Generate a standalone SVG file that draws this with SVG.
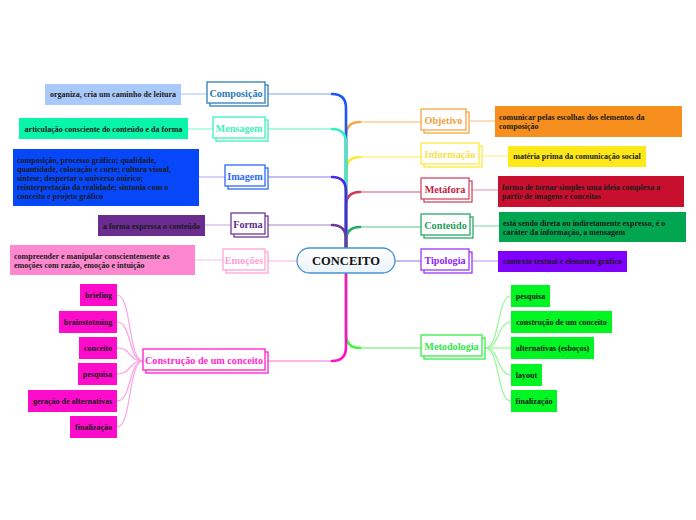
<svg xmlns="http://www.w3.org/2000/svg" width="696" height="520" viewBox="0 0 696 520">
<defs>
<style>
.nt{font-family:"Liberation Serif","Times New Roman",serif;font-weight:bold;font-size:10.2px;text-anchor:middle}
.lt{font-family:"Liberation Serif","Times New Roman",serif;font-weight:bold;font-size:8px;fill:#1a1a1a}
.c{text-anchor:middle}
.nb{fill:#fff;stroke-width:1.3}
.tr{fill:none;stroke-width:2.6;stroke-linecap:round}
.hz{fill:none;stroke-width:1.4}
.lk{fill:none;stroke-width:1.2}
</style>
<linearGradient id="cg" x1="0" y1="0" x2="0" y2="1"><stop offset="0" stop-color="#ffffff"/><stop offset="1" stop-color="#eaf3fa"/></linearGradient>
</defs>
<rect width="696" height="520" fill="#fff"/>
<g id="connectors">
<path class="hz" stroke="#f9cf9b" d="M360,122 H421"/><path class="tr" stroke="#f7a640" d="M346,248 V136 Q346,122 360,122"/>
<path class="hz" stroke="#fff08a" d="M360,157 H421"/><path class="tr" stroke="#ffe836" d="M346,248 V171 Q346,157 360,157"/>
<path class="hz" stroke="#e58b9d" d="M360,192 H421"/><path class="tr" stroke="#d43a58" d="M346,248 V206 Q346,192 360,192"/>
<path class="hz" stroke="#8ed8ae" d="M360,227 H421"/><path class="tr" stroke="#22ab63" d="M346,248 V241 Q346,227 360,227"/>
<path class="hz" stroke="#a8a0f0" d="M395,261 H421"/>
<path class="hz" stroke="#8cf98c" d="M360,348 H421"/><path class="tr" stroke="#3cf83c" d="M346,273 V334 Q346,348 360,348"/>
<path class="hz" stroke="#a9c2f4" d="M332,94 H268"/><path class="tr" stroke="#1d56f5" d="M346,248 V108 Q346,94 332,94"/>
<path class="hz" stroke="#8ff5d6" d="M332,129 H268"/><path class="tr" stroke="#33f0c2" d="M346,248 V143 Q346,129 332,129"/>
<path class="hz" stroke="#b7a4f0" d="M332,177 H268"/><path class="tr" stroke="#4a28e6" d="M346,248 V191 Q346,177 332,177"/>
<path class="hz" stroke="#c4acd8" d="M332,225 H268"/><path class="tr" stroke="#6a3a9c" d="M346,248 V239 Q346,225 332,225"/>
<path class="hz" stroke="#ffc6e8" d="M297,261 H268"/>
<path class="hz" stroke="#ff9ee2" d="M332,361 H268"/><path class="tr" stroke="#ff10c8" d="M346,273 V347 Q346,361 332,361"/>
<path class="lk" stroke="#b3ccf8" d="M181,94 H207"/>
<path class="lk" stroke="#8ff8d6" d="M188,129 H213"/>
<path class="lk" stroke="#c7b2f2" d="M199,177 H225"/>
<path class="lk" stroke="#cdb6dc" d="M205,225 H231"/>
<path class="lk" stroke="#ffc8e8" d="M195,260 H223"/>
<path class="lk" stroke="#f9c991" d="M469,121 H495"/>
<path class="lk" stroke="#fff08a" d="M482,156 H508"/>
<path class="lk" stroke="#e9a2b2" d="M472,190 H498"/>
<path class="lk" stroke="#93dbb3" d="M473,226 H499"/>
<path class="lk" stroke="#c2a6ff" d="M472,261 H498"/>
<g stroke="#ffa0e4">
<path class="lk" d="M143,361 C128,361 132,295 117,295"/>
<path class="lk" d="M143,361 C128,361 132,322 117,322"/>
<path class="lk" d="M143,361 C128,361 132,348 117,348"/>
<path class="lk" d="M143,361 C128,361 132,374 117,374"/>
<path class="lk" d="M143,361 C128,361 132,401 117,401"/>
<path class="lk" d="M143,361 C128,361 132,427 117,427"/>
</g>
<g stroke="#95f895">
<path class="lk" d="M485,348 C500,348 497,296 511,296"/>
<path class="lk" d="M485,348 C500,348 497,322 511,322"/>
<path class="lk" d="M485,348 C500,348 497,348 511,348"/>
<path class="lk" d="M485,348 C500,348 497,375 511,375"/>
<path class="lk" d="M485,348 C500,348 497,401 511,401"/>
</g>
</g>
<g id="conceito">
<rect x="297" y="248" width="98" height="25" rx="12.5" fill="url(#cg)" stroke="#4a93cf" stroke-width="1.3"/>
<text x="346" y="265" class="nt" style="font-size:12.5px" fill="#111">CONCEITO</text>
</g>
<g id="composicao">
<rect class="nb" x="210" y="85" width="58" height="21" stroke="#2e7fb8"/><rect class="nb" x="207" y="82" width="58" height="21" stroke="#2e7fb8"/>
<text class="nt" x="236" y="96.5" fill="#2b7bb9">Composição</text>
</g>
<g id="mensagem">
<rect class="nb" x="216" y="120" width="52" height="21" stroke="#3df2b6"/><rect class="nb" x="213" y="117" width="52" height="21" stroke="#3df2b6"/>
<text class="nt" x="239" y="131.5" fill="#3df2b6">Mensagem</text>
</g>
<g id="imagem">
<rect class="nb" x="228" y="168" width="40" height="21" stroke="#2d6bf5"/><rect class="nb" x="225" y="165" width="40" height="21" stroke="#2d6bf5"/>
<text class="nt" x="245" y="179.5" fill="#2d6bf5">Imagem</text>
</g>
<g id="forma">
<rect class="nb" x="234" y="216" width="34" height="21" stroke="#6f3a94"/><rect class="nb" x="231" y="213" width="34" height="21" stroke="#6f3a94"/>
<text class="nt" x="248" y="227.5" fill="#5e2d87">Forma</text>
</g>
<g id="emocoes">
<rect class="nb" x="226" y="252" width="42" height="21" stroke="#ffa3d6"/><rect class="nb" x="223" y="249" width="42" height="21" stroke="#ffa3d6"/>
<text class="nt" x="244" y="263.5" fill="#ff9fd4">Emoções</text>
</g>
<g id="construcao">
<rect class="nb" x="146" y="352" width="122" height="21" stroke="#ff1acb"/><rect class="nb" x="143" y="349" width="122" height="21" stroke="#ff1acb"/>
<text class="nt" x="204" y="363.5" fill="#ff2ad0">Construção de um conceito</text>
</g>
<g id="objetivo">
<rect class="nb" x="424" y="112" width="45" height="21" stroke="#f7a640"/><rect class="nb" x="421" y="109" width="45" height="21" stroke="#f7a640"/>
<text class="nt" x="443.5" y="123.5" fill="#f5a03c">Objetivo</text>
</g>
<g id="informacao">
<rect class="nb" x="424" y="146" width="58" height="21" stroke="#ffe840"/><rect class="nb" x="421" y="143" width="58" height="21" stroke="#ffe840"/>
<text class="nt" x="450" y="157.5" fill="#f8e04a">Informação</text>
</g>
<g id="metafora">
<rect class="nb" x="424" y="181" width="48" height="21" stroke="#d04a66"/><rect class="nb" x="421" y="178" width="48" height="21" stroke="#d04a66"/>
<text class="nt" x="445" y="192.5" fill="#c41d3d">Metáfora</text>
</g>
<g id="conteudo">
<rect class="nb" x="424" y="217" width="49" height="21" stroke="#2aa866"/><rect class="nb" x="421" y="214" width="49" height="21" stroke="#2aa866"/>
<text class="nt" x="445.5" y="228.5" fill="#1fa05c">Conteúdo</text>
</g>
<g id="tipologia">
<rect class="nb" x="424" y="252" width="48" height="21" stroke="#9a38f5"/><rect class="nb" x="421" y="249" width="48" height="21" stroke="#9a38f5"/>
<text class="nt" x="445" y="263.5" fill="#8f22f5">Tipologia</text>
</g>
<g id="metodologia">
<rect class="nb" x="424" y="338" width="61" height="21" stroke="#33ee44"/><rect class="nb" x="421" y="335" width="61" height="21" stroke="#33ee44"/>
<text class="nt" x="451.5" y="349.5" fill="#2be84a">Metodologia</text>
</g>
<g id="leaf-composicao"><rect x="45" y="84" width="136" height="21" fill="#a9c9fa"/><text class="lt c" x="113" y="97.3">organiza, cria um caminho de leitura</text></g>
<g id="leaf-mensagem"><rect x="19" y="118" width="169" height="21" fill="#09f5a9"/><text class="lt c" x="103.5" y="131.8">articulação consciente do conteúdo e da forma</text></g>
<g id="leaf-imagem"><rect x="13" y="149" width="186" height="57" fill="#0747fa"/>
<text class="lt" x="17" y="162.8">composição, processo gráfico; qualidade,</text>
<text class="lt" x="17" y="171.8">quantidade, colocação e corte; cultura visual,</text>
<text class="lt" x="17" y="180.8">síntese; despertar o universo onírico;</text>
<text class="lt" x="17" y="189.8">reinterpretação da realidade; sintonia com o</text>
<text class="lt" x="17" y="198.8">conceito e projeto gráfico</text></g>
<g id="leaf-forma"><rect x="98" y="215" width="107" height="21" fill="#6a2c8e"/><text class="lt c" x="151.5" y="228.8">a forma expressa o conteúdo</text></g>
<g id="leaf-emocoes"><rect x="10" y="245" width="185" height="30" fill="#fd88cf"/>
<text class="lt" x="14" y="258.8">compreender e manipular conscientemente as</text>
<text class="lt" x="14" y="267.8">emoções com razão, emoção e intuição</text></g>
<g id="leaf-briefing"><rect x="80" y="284" width="37" height="22" fill="#fe0bcc"/><text class="lt c" x="98.5" y="297.8">briefing</text></g>
<g id="leaf-brainstotming"><rect x="59" y="311" width="58" height="22" fill="#fe0bcc"/><text class="lt c" x="88" y="324.8">brainstotming</text></g>
<g id="leaf-conceito"><rect x="79" y="337" width="38" height="22" fill="#fe0bcc"/><text class="lt c" x="98" y="350.8">conceito</text></g>
<g id="leaf-pesquisa-l"><rect x="78" y="363" width="39" height="22" fill="#fe0bcc"/><text class="lt c" x="97.5" y="376.8">pesquisa</text></g>
<g id="leaf-geracao"><rect x="28" y="390" width="89" height="22" fill="#fe0bcc"/><text class="lt c" x="72.5" y="403.8">geração de alternativas</text></g>
<g id="leaf-finalizacao-l"><rect x="70" y="416" width="47" height="22" fill="#fe0bcc"/><text class="lt c" x="93.5" y="429.8">finalização</text></g>
<g id="leaf-objetivo"><rect x="495" y="106" width="187" height="31" fill="#f78f1e"/>
<text class="lt" x="499" y="119.8">comunicar pelas escolhas dos elementos da</text>
<text class="lt" x="499" y="128.8">composição</text></g>
<g id="leaf-informacao"><rect x="508" y="146" width="138" height="21" fill="#ffe81a"/><text class="lt c" x="577" y="159.3">matéria prima da comunicação social</text></g>
<g id="leaf-metafora"><rect x="498" y="176" width="186" height="31" fill="#c8102e"/>
<text class="lt" x="502" y="189.8">forma de tornar simples uma ideia complexa a</text>
<text class="lt" x="502" y="198.8">partir de imagens e conceitos</text></g>
<g id="leaf-conteudo"><rect x="499" y="212" width="187" height="30" fill="#00a650"/>
<text class="lt" x="503" y="225.8">está sendo direta ou indiretamente expresso, é o</text>
<text class="lt" x="503" y="234.8">caráter da informação, a mensagem</text></g>
<g id="leaf-tipologia"><rect x="498" y="251" width="129" height="21" fill="#8000ff"/><text class="lt c" x="562.5" y="264.3">contexto textual e elemento gráfico</text></g>
<g id="leaf-pesquisa-r"><rect x="511" y="285" width="39" height="22" fill="#00f522"/><text class="lt c" x="530.5" y="298.8">pesquisa</text></g>
<g id="leaf-construcao-r"><rect x="511" y="311" width="101" height="22" fill="#00f522"/><text class="lt c" x="561.5" y="324.8">construção de um conceito</text></g>
<g id="leaf-alternativas"><rect x="511" y="337" width="83" height="22" fill="#00f522"/><text class="lt c" x="552.5" y="350.8">alternativas (esboços)</text></g>
<g id="leaf-layout"><rect x="511" y="364" width="31" height="22" fill="#00f522"/><text class="lt c" x="526.5" y="377.8">layout</text></g>
<g id="leaf-finalizacao-r"><rect x="511" y="390" width="46" height="22" fill="#00f522"/><text class="lt c" x="534" y="403.8">finalização</text></g>
</svg>
